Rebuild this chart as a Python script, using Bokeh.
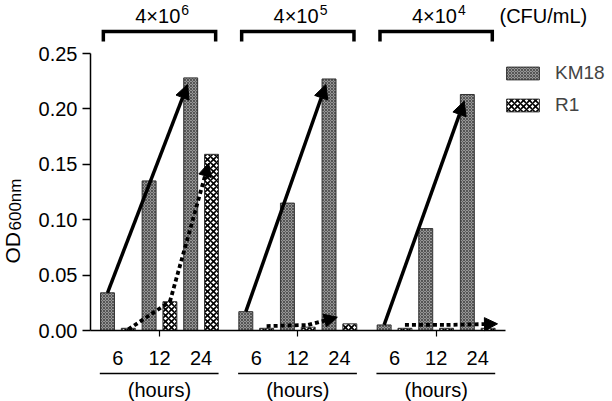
import math
from bokeh.plotting import figure
from bokeh.models import (ColumnDataSource, Range1d, FixedTicker, NumeralTickFormatter,
                          CustomJSTickFormatter, Arrow, NormalHead, Legend, LegendItem)
from bokeh.core.properties import value
from bokeh.embed import file_html
from bokeh.resources import INLINE

# ---------------- data ----------------
group_base = ["4×10", "4×10", "4×10"]
group_exp = ["6", "5", "4"]
unit_label = "(CFU/mL)"
hours = ["6", "12", "24"]
hours_label = "(hours)"
series = ["KM18", "R1"]
km18 = [[0.034, 0.135, 0.228],
        [0.017, 0.115, 0.227],
        [0.005, 0.092, 0.213]]
r1 = [[0.002, 0.026, 0.159],
      [0.002, 0.003, 0.006],
      [0.002, 0.002, 0.002]]
km18_arrow_tip = [0.222, 0.222, 0.207]
r1_trend = [[0.001, 0.026, 0.151],
            [0.004, 0.005, 0.012],
            [0.005, 0.005, 0.006]]
y_ticks = [0.0, 0.05, 0.10, 0.15, 0.20, 0.25]
y_label_main = "OD"
y_label_sub = "600nm"

# ---------------- layout ----------------
FONT = "Liberation Sans"
STEP = 6.65      # group spacing in bar slots
BW = 0.67        # bar width
PXY = 1108.0     # pixels per OD unit
PXX = 20.8       # pixels per slot
W, H = 612, 401

def ypx(img_y):   # pixel row -> data y
    return (330 - img_y) / PXY

def xpx(img_x):   # pixel column -> data x
    return (img_x - 107) / PXX

p = figure(width=W, height=H, output_backend="svg", toolbar_location=None,
           x_range=Range1d(xpx(0), xpx(W)), y_range=Range1d(ypx(H), ypx(0)),
           min_border_left=0, min_border_right=0, min_border_top=0, min_border_bottom=0)
p.outline_line_color = None
p.xgrid.visible = False
p.ygrid.visible = False
p.background_fill_color = "white"

# y axis, drawn at its own position inside the canvas
ya = p.yaxis[0]
ya.fixed_location = xpx(90)
ya.ticker = FixedTicker(ticks=y_ticks)
ya.formatter = NumeralTickFormatter(format="0.00")
ya.bounds = (0, 0.25)
ya.major_label_text_font = FONT
ya.major_label_text_font_size = "20px"
ya.major_label_text_color = "black"
ya.major_label_standoff = 5
ya.major_tick_out = 8
ya.major_tick_in = 0
ya.minor_tick_line_color = None
ya.axis_line_width = 1.5
ya.major_tick_line_width = 1.5
ya.axis_line_color = "black"
ya.major_tick_line_color = "black"

# x axis at y = 0
centers = [g * STEP + 2.5 for g in range(3)]
xa = p.xaxis[0]
xa.fixed_location = 0
xa.ticker = FixedTicker(ticks=centers)
xa.formatter = CustomJSTickFormatter(code="return ''")
xa.major_label_text_font_size = "0px"
xa.bounds = (xpx(90), xpx(505))
xa.major_tick_out = 6
xa.major_tick_in = 0
xa.minor_tick_line_color = None
xa.axis_line_width = 1.5
xa.major_tick_line_width = 1.2
xa.axis_line_color = "black"
xa.major_tick_line_color = "black"

# bars
kx, ky, rx, ryv = [], [], [], []
for g in range(3):
    for t in range(3):
        kx.append(g * STEP + 2 * t)
        ky.append(km18[g][t])
        rx.append(g * STEP + 2 * t + 1)
        ryv.append(r1[g][t])
rk = p.vbar(x=kx, top=ky, bottom=0, width=BW, fill_color="#969696", line_color="#333333",
            line_width=1, hatch_pattern="diagonal_cross", hatch_scale=3, hatch_weight=0.8,
            hatch_color="#444444")
rr = p.vbar(x=rx, top=ryv, bottom=0, width=BW, fill_color="white", line_color="#333333",
            line_width=1, hatch_pattern="diagonal_cross", hatch_scale=6, hatch_weight=1.6,
            hatch_color="black")

# solid arrows (KM18 trend)
ks = ColumnDataSource(dict(
    xs=[g * STEP for g in range(3)], ys=[km18[g][0] for g in range(3)],
    xe=[g * STEP + 3.85 for g in range(3)], ye=km18_arrow_tip))
p.add_layout(Arrow(source=ks, x_start="xs", y_start="ys", x_end="xe", y_end="ye",
                   line_width=3.5, line_color="black",
                   end=NormalHead(size=14, fill_color="black", line_color="black", line_width=1)))

# dotted R1 trend: first segment as line, last segment as arrow
end_off = [4.86, 4.4, 5.45]
p.segment(x0=[g * STEP + 1 for g in range(3)], y0=[r1_trend[g][0] for g in range(3)],
          x1=[g * STEP + 3 for g in range(3)], y1=[r1_trend[g][1] for g in range(3)],
          line_width=3.8, line_color="black", line_dash="4 3")
rs = ColumnDataSource(dict(
    xs=[g * STEP + 3 for g in range(3)], ys=[r1_trend[g][1] for g in range(3)],
    xe=[g * STEP + end_off[g] for g in range(3)], ye=[r1_trend[g][2] for g in range(3)]))
p.add_layout(Arrow(source=rs, x_start="xs", y_start="ys", x_end="xe", y_end="ye",
                   line_width=3.8, line_color="black", line_dash="4 3",
                   end=NormalHead(size=13, fill_color="black", line_color="black", line_width=1)))

# hour labels, underline, (hours)
hx, ht = [], []
for g in range(3):
    for t in range(3):
        hx.append(g * STEP + 2 * t + 0.5)
        ht.append(hours[t])
p.text(x=hx, y=[ypx(357)] * len(hx), text=ht, text_font=value(FONT), text_font_size="20px",
       text_align="center", text_baseline="middle", text_color="black")
p.segment(x0=[g * STEP - 0.37 for g in range(3)], y0=[ypx(373)] * 3,
          x1=[g * STEP + 5.34 for g in range(3)], y1=[ypx(373)] * 3,
          line_width=1.5, line_color="black")
p.text(x=centers, y=[ypx(389)] * 3, text=[hours_label] * 3, text_font=value(FONT),
       text_font_size="20px", text_align="center", text_baseline="middle", text_color="black")

# brackets and titles
bxs, bys = [], []
for c in centers:
    bxs.append([c - 2.7, c - 2.7, c + 2.7, c + 2.7])
    bys.append([ypx(41), ypx(31), ypx(31), ypx(41)])
p.multi_line(xs=bxs, ys=bys, line_width=3.5, line_color="black", line_join="miter")
p.text(x=[c + 1.0 for c in centers], y=[ypx(15)] * 3, text=group_base, text_font=value(FONT),
       text_font_size="20px", text_align="right", text_baseline="alphabetic", text_color="black")
p.text(x=[c + 1.05 for c in centers], y=[ypx(9.5)] * 3, text=group_exp, text_font=value(FONT),
       text_font_size="14px", text_align="left", text_baseline="alphabetic", text_color="black")
p.text(x=[xpx(499)], y=[ypx(15)], text=[unit_label], text_font=value(FONT),
       text_font_size="20px", text_align="left", text_baseline="alphabetic", text_color="black")

# y label (rotated, with subscript)
p.text(x=[xpx(12)], y=[ypx(263)], text=[y_label_main], angle=math.pi / 2,
       text_font=value(FONT), text_font_size="21px", text_align="left",
       text_baseline="alphabetic", text_color="black")
p.text(x=[xpx(15)], y=[ypx(230)], text=[y_label_sub], angle=math.pi / 2,
       text_font=value(FONT), text_font_size="17px", text_align="left",
       text_baseline="alphabetic", text_color="black")

# legend
legend = Legend(items=[LegendItem(label=series[0], renderers=[rk]),
                       LegendItem(label=series[1], renderers=[rr])],
                location=(502, H - 116), glyph_width=41, glyph_height=16, label_height=16,
                label_standoff=12, spacing=10, padding=0, margin=0,
                label_text_font=FONT, label_text_font_size="19px",
                border_line_color=None, background_fill_alpha=0)
p.add_layout(legend)

open("out.html", "w").write(file_html(p, INLINE))
